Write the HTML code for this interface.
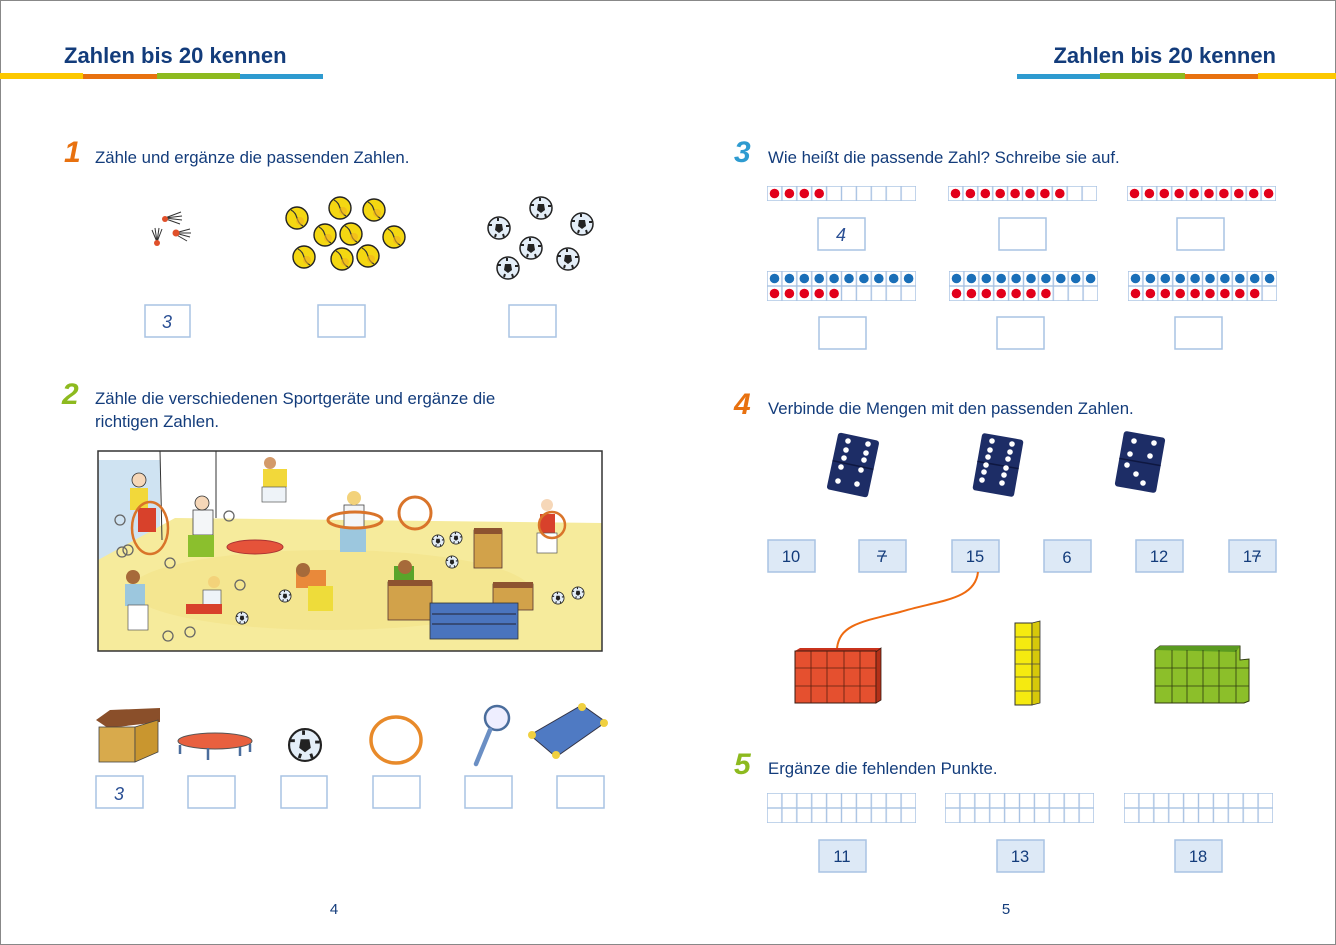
<!DOCTYPE html>
<html><head><meta charset="utf-8"><style>
html,body{margin:0;padding:0;background:#fff}
svg{display:block}
text{font-family:"Liberation Sans",sans-serif}
</style></head><body>
<svg width="1336" height="945" viewBox="0 0 1336 945" xmlns="http://www.w3.org/2000/svg">
<defs>
<pattern id="cell" width="14.9" height="15" patternUnits="userSpaceOnUse"><rect x="0" y="0" width="14.9" height="15" fill="#fff" stroke="#a9c3e3" stroke-width="1.4"/></pattern>
<g id="ball"><circle r="11" fill="#e4eef8" stroke="#222" stroke-width="1.5"/><polygon points="-3,-4 3,-4 4,2 0,5 -4,2" fill="#222"/><path d="M-10,-3 l3,0 M10,-2 l-3,0 M-4,9 l1,-3 M5,9 l-1,-3 M-1,-10 l0,3" stroke="#222" stroke-width="2"/></g>
<g id="tb"><circle r="11" fill="#f4d712" stroke="#222" stroke-width="1.4"/><path d="M-6,-8 C2,-4 -2,4 6,8" fill="none" stroke="#333" stroke-width="1.2"/><circle cx="3" cy="3" r="4" fill="#f0b020" opacity=".6"/></g>
<g id="bluerow" fill="#1a6fb8"><circle cx="7.5" cy="7.5" r="4.8"/><circle cx="22.4" cy="7.5" r="4.8"/><circle cx="37.3" cy="7.5" r="4.8"/><circle cx="52.2" cy="7.5" r="4.8"/><circle cx="67.1" cy="7.5" r="4.8"/><circle cx="82" cy="7.5" r="4.8"/><circle cx="96.9" cy="7.5" r="4.8"/><circle cx="111.8" cy="7.5" r="4.8"/><circle cx="126.7" cy="7.5" r="4.8"/><circle cx="141.6" cy="7.5" r="4.8"/></g>
</defs>
<rect x="0.5" y="0.5" width="1335" height="944" fill="#fff" stroke="#888"/>

<!-- headers -->
<text x="64" y="63" font-size="22" font-weight="bold" fill="#133c7b">Zahlen bis 20 kennen</text>
<rect x="0" y="73" width="83" height="6" fill="#fcc800"/><rect x="83" y="74" width="74" height="5" fill="#e8710f"/><rect x="157" y="73" width="83" height="6" fill="#8dba1f"/><rect x="240" y="74" width="83" height="5" fill="#2e9bd0"/>
<text x="1276" y="63" font-size="22" font-weight="bold" fill="#133c7b" text-anchor="end">Zahlen bis 20 kennen</text>
<rect x="1017" y="74" width="83" height="5" fill="#2e9bd0"/><rect x="1100" y="73" width="85" height="6" fill="#8dba1f"/><rect x="1185" y="74" width="73" height="5" fill="#e8710f"/><rect x="1258" y="73" width="78" height="6" fill="#fcc800"/>

<!-- numbers & instructions -->
<g font-size="30" font-weight="bold" font-style="italic">
<text x="64" y="162" fill="#e8710f">1</text>
<text x="62" y="404" fill="#8dba1f">2</text>
<text x="734" y="162" fill="#2e9bd0">3</text>
<text x="734" y="414" fill="#e8710f">4</text>
<text x="734" y="774" fill="#8dba1f">5</text>
</g>
<g font-size="16.8" fill="#133c7b">
<text x="95" y="163">Zähle und ergänze die passenden Zahlen.</text>
<text x="95" y="404">Zähle die verschiedenen Sportgeräte und ergänze die</text>
<text x="95" y="427">richtigen Zahlen.</text>
<text x="768" y="163">Wie heißt die passende Zahl? Schreibe sie auf.</text>
<text x="768" y="414">Verbinde die Mengen mit den passenden Zahlen.</text>
<text x="768" y="774">Ergänze die fehlenden Punkte.</text>
</g>

<!-- ex1 pictures -->
<g stroke="#333" stroke-width="1" fill="none">
<path d="M165,218 l16,-6 M165,218 l17,-2 M165,218 l17,2 M166,219 l14,5"/>
<path d="M175,233 l15,-4 M175,233 l16,0 M175,233 l15,4 M175,234 l12,7"/>
<path d="M157,242 l-2,-14 M157,242 l2,-14 M157,242 l5,-13 M157,242 l-5,-12"/>
</g>
<circle cx="165" cy="219" r="3" fill="#e0502a"/><circle cx="176" cy="233" r="3.5" fill="#e0502a"/><circle cx="157" cy="243" r="3" fill="#e0502a"/>
<use href="#tb" x="297" y="218"/><use href="#tb" x="340" y="208"/><use href="#tb" x="374" y="210"/><use href="#tb" x="325" y="235"/><use href="#tb" x="351" y="234"/><use href="#tb" x="394" y="237"/><use href="#tb" x="304" y="257"/><use href="#tb" x="342" y="259"/><use href="#tb" x="368" y="256"/>
<use href="#ball" x="499" y="228"/><use href="#ball" x="541" y="208"/><use href="#ball" x="582" y="224"/><use href="#ball" x="531" y="248"/><use href="#ball" x="568" y="259"/><use href="#ball" x="508" y="268"/>

<!-- answer boxes -->
<g fill="#fff" stroke="#a9c3e3" stroke-width="1.5">
<rect x="145" y="305" width="45" height="32"/><rect x="318" y="305" width="47" height="32"/><rect x="509" y="305" width="47" height="32"/>
<rect x="96" y="776" width="47" height="32"/><rect x="188" y="776" width="47" height="32"/><rect x="281" y="776" width="46" height="32"/><rect x="373" y="776" width="47" height="32"/><rect x="465" y="776" width="47" height="32"/><rect x="557" y="776" width="47" height="32"/>
<rect x="818" y="218" width="47" height="32"/><rect x="999" y="218" width="47" height="32"/><rect x="1177" y="218" width="47" height="32"/>
<rect x="819" y="317" width="47" height="32"/><rect x="997" y="317" width="47" height="32"/><rect x="1175" y="317" width="47" height="32"/>
</g>
<g font-size="18" font-style="italic" fill="#2a4f94" text-anchor="middle">
<text x="167" y="328">3</text><text x="119" y="800">3</text><text x="841" y="241">4</text>
</g>

<!-- ex2 illustration -->
<rect x="98" y="451" width="504" height="200" fill="#fff"/>
<polygon points="98,460 160,460 160,540 98,560" fill="#cfe3f2"/>
<polygon points="98,560 175,518 602,523 602,651 98,651" fill="#f6eb9c"/>
<ellipse cx="330" cy="590" rx="200" ry="40" fill="#f3e289" opacity=".6"/>
<rect x="98" y="451" width="504" height="200" fill="none" stroke="#333" stroke-width="1.5"/>
<line x1="216" y1="451" x2="216" y2="518" stroke="#333"/>
<line x1="160" y1="451" x2="162" y2="540" stroke="#333"/>
<g>
<rect x="130" y="488" width="18" height="22" fill="#f2d83a"/><circle cx="139" cy="480" r="7" fill="#f6d7b8" stroke="#333" stroke-width=".8"/><rect x="138" y="508" width="18" height="24" fill="#d8412b"/>
<ellipse cx="150" cy="528" rx="18" ry="26" fill="none" stroke="#d9742a" stroke-width="2.5"/>
<rect x="193" y="510" width="20" height="25" fill="#f4f6f8" stroke="#444" stroke-width=".8"/><circle cx="202" cy="503" r="7" fill="#f6d7b8" stroke="#333" stroke-width=".8"/><rect x="188" y="535" width="26" height="22" fill="#8bbf2d"/>
<rect x="263" y="469" width="24" height="18" fill="#f2d83a"/><circle cx="270" cy="463" r="6" fill="#d39a6a"/><rect x="262" y="487" width="24" height="15" fill="#eef3f8" stroke="#555" stroke-width=".7"/>
<rect x="344" y="505" width="20" height="25" fill="#f4f6f8" stroke="#444" stroke-width=".8"/><circle cx="354" cy="498" r="7" fill="#f3d27a"/><rect x="340" y="527" width="26" height="25" fill="#9cc7de"/>
<ellipse cx="355" cy="520" rx="27" ry="8" fill="none" stroke="#d9742a" stroke-width="3"/>
<circle cx="415" cy="513" r="16" fill="none" stroke="#d9742a" stroke-width="3"/>
<rect x="540" y="514" width="15" height="20" fill="#d8412b"/><circle cx="547" cy="505" r="6" fill="#f6d7b8"/><rect x="537" y="533" width="20" height="20" fill="#fff" stroke="#555" stroke-width=".7"/>
<circle cx="552" cy="525" r="13" fill="none" stroke="#d9742a" stroke-width="2.5"/>
<rect x="125" y="584" width="20" height="22" fill="#9cc7de"/><circle cx="133" cy="577" r="7" fill="#a66a3a"/><rect x="128" y="605" width="20" height="25" fill="#fff" stroke="#555" stroke-width=".7"/>
<rect x="203" y="590" width="18" height="15" fill="#eef3f8" stroke="#555" stroke-width=".7"/><circle cx="214" cy="582" r="6" fill="#f3d27a"/><rect x="186" y="604" width="36" height="10" fill="#d8412b"/>
<rect x="296" y="570" width="30" height="18" fill="#e9893a"/><circle cx="303" cy="570" r="7" fill="#a66a3a"/><rect x="308" y="586" width="25" height="25" fill="#eedc3a"/>
<rect x="394" y="566" width="20" height="15" fill="#59a52a"/><circle cx="405" cy="567" r="7" fill="#a66a3a"/>
</g>
<ellipse cx="255" cy="547" rx="28" ry="7" fill="#e5533a" stroke="#a33" stroke-width="1"/>
<rect x="388" y="582" width="44" height="38" fill="#d2a24a" stroke="#533" stroke-width=".8"/><rect x="388" y="580" width="44" height="6" fill="#8d5330"/>
<rect x="474" y="530" width="28" height="38" fill="#d2a24a" stroke="#533" stroke-width=".8"/><rect x="474" y="528" width="28" height="6" fill="#8d5330"/>
<rect x="493" y="584" width="40" height="26" fill="#d2a24a" stroke="#533" stroke-width=".8"/><rect x="493" y="582" width="40" height="6" fill="#8d5330"/>
<rect x="430" y="603" width="88" height="36" fill="#4a74be" stroke="#333" stroke-width=".8"/><line x1="432" y1="614" x2="516" y2="614" stroke="#223"/><line x1="432" y1="624" x2="516" y2="624" stroke="#223"/>
<use href="#ball" transform="translate(285,596) scale(.55)"/><use href="#ball" transform="translate(242,618) scale(.55)"/><use href="#ball" transform="translate(438,541) scale(.55)"/><use href="#ball" transform="translate(456,538) scale(.55)"/><use href="#ball" transform="translate(452,562) scale(.55)"/><use href="#ball" transform="translate(558,598) scale(.55)"/><use href="#ball" transform="translate(578,593) scale(.55)"/>
<g fill="none" stroke="#666" stroke-width="1.3"><circle cx="120" cy="520" r="5"/><circle cx="122" cy="552" r="5"/><circle cx="128" cy="550" r="5"/><circle cx="229" cy="516" r="5"/><circle cx="170" cy="563" r="5"/><circle cx="240" cy="585" r="5"/><circle cx="168" cy="636" r="5"/><circle cx="190" cy="632" r="5"/></g>

<!-- ex2 items -->
<polygon points="96,720 110,710 160,708 160,722 108,728" fill="#8a4f2a"/>
<rect x="99" y="727" width="36" height="35" fill="#d8aa4c" stroke="#444" stroke-width=".8"/><polygon points="135,727 158,720 158,752 135,762" fill="#c9962f" stroke="#444" stroke-width=".8"/>
<ellipse cx="215" cy="741" rx="37" ry="8" fill="#e8603f" stroke="#555"/><g stroke="#4a6d9c" stroke-width="2.5"><line x1="180" y1="745" x2="180" y2="754"/><line x1="208" y1="748" x2="208" y2="760"/><line x1="240" y1="747" x2="240" y2="756"/><line x1="250" y1="744" x2="250" y2="752"/></g>
<g transform="translate(305,745) scale(1.45)"><use href="#ball"/></g>
<ellipse cx="396" cy="740" rx="25" ry="23" fill="none" stroke="#e88a2a" stroke-width="3.5"/>
<circle cx="497" cy="718" r="12" fill="#eef" stroke="#4a6d9c" stroke-width="2.5"/><line x1="490" y1="730" x2="476" y2="764" stroke="#6b8fc4" stroke-width="4.5" stroke-linecap="round"/>
<polygon points="530,735 582,705 606,722 556,757" fill="#4f7ac3" stroke="#334" stroke-width="1"/><circle cx="582" cy="707" r="4" fill="#f0d040"/><circle cx="604" cy="723" r="4" fill="#f0d040"/><circle cx="532" cy="735" r="4" fill="#f0d040"/><circle cx="556" cy="755" r="4" fill="#f0d040"/>

<!-- ex3 strips -->
<g transform="translate(767,186)"><rect width="149" height="15" fill="url(#cell)"/><g fill="#e2001a"><circle cx="7.5" cy="7.5" r="4.8"/><circle cx="22.4" cy="7.5" r="4.8"/><circle cx="37.3" cy="7.5" r="4.8"/><circle cx="52.2" cy="7.5" r="4.8"/></g></g>
<g transform="translate(948,186)"><rect width="149" height="15" fill="url(#cell)"/><g fill="#e2001a"><circle cx="7.5" cy="7.5" r="4.8"/><circle cx="22.4" cy="7.5" r="4.8"/><circle cx="37.3" cy="7.5" r="4.8"/><circle cx="52.2" cy="7.5" r="4.8"/><circle cx="67.1" cy="7.5" r="4.8"/><circle cx="82" cy="7.5" r="4.8"/><circle cx="96.9" cy="7.5" r="4.8"/><circle cx="111.8" cy="7.5" r="4.8"/></g></g>
<g transform="translate(1127,186)"><rect width="149" height="15" fill="url(#cell)"/><g fill="#e2001a"><circle cx="7.5" cy="7.5" r="4.8"/><circle cx="22.4" cy="7.5" r="4.8"/><circle cx="37.3" cy="7.5" r="4.8"/><circle cx="52.2" cy="7.5" r="4.8"/><circle cx="67.1" cy="7.5" r="4.8"/><circle cx="82" cy="7.5" r="4.8"/><circle cx="96.9" cy="7.5" r="4.8"/><circle cx="111.8" cy="7.5" r="4.8"/><circle cx="126.7" cy="7.5" r="4.8"/><circle cx="141.6" cy="7.5" r="4.8"/></g></g>
<g transform="translate(767,271)"><rect width="149" height="30" fill="url(#cell)"/><use href="#bluerow"/><g fill="#e2001a"><circle cx="7.5" cy="22.5" r="4.8"/><circle cx="22.4" cy="22.5" r="4.8"/><circle cx="37.3" cy="22.5" r="4.8"/><circle cx="52.2" cy="22.5" r="4.8"/><circle cx="67.1" cy="22.5" r="4.8"/></g></g>
<g transform="translate(949,271)"><rect width="149" height="30" fill="url(#cell)"/><use href="#bluerow"/><g fill="#e2001a"><circle cx="7.5" cy="22.5" r="4.8"/><circle cx="22.4" cy="22.5" r="4.8"/><circle cx="37.3" cy="22.5" r="4.8"/><circle cx="52.2" cy="22.5" r="4.8"/><circle cx="67.1" cy="22.5" r="4.8"/><circle cx="82" cy="22.5" r="4.8"/><circle cx="96.9" cy="22.5" r="4.8"/></g></g>
<g transform="translate(1128,271)"><rect width="149" height="30" fill="url(#cell)"/><use href="#bluerow"/><g fill="#e2001a"><circle cx="7.5" cy="22.5" r="4.8"/><circle cx="22.4" cy="22.5" r="4.8"/><circle cx="37.3" cy="22.5" r="4.8"/><circle cx="52.2" cy="22.5" r="4.8"/><circle cx="67.1" cy="22.5" r="4.8"/><circle cx="82" cy="22.5" r="4.8"/><circle cx="96.9" cy="22.5" r="4.8"/><circle cx="111.8" cy="22.5" r="4.8"/><circle cx="126.7" cy="22.5" r="4.8"/></g></g>

<!-- ex4 dominoes -->
<g transform="translate(853,465) rotate(12)"><rect x="-21" y="-29" width="42" height="58" rx="3" fill="#1d2d66"/><line x1="-21" y1="0" x2="21" y2="0" stroke="#0e1740" stroke-width="1.5"/></g>
<g fill="#fff">
<circle cx="848" cy="441" r="2.8"/><circle cx="868" cy="444" r="2.8"/><circle cx="846" cy="450" r="2.8"/><circle cx="866" cy="453" r="2.8"/><circle cx="844" cy="458" r="2.8"/><circle cx="864" cy="460" r="2.8"/><circle cx="841" cy="467" r="2.8"/><circle cx="861" cy="470" r="2.8"/><circle cx="838" cy="481" r="2.8"/><circle cx="857" cy="484" r="2.8"/></g>
<g transform="translate(998,465) rotate(10)"><rect x="-21" y="-29" width="42" height="58" rx="3" fill="#1d2d66"/><line x1="-21" y1="0" x2="21" y2="0" stroke="#0e1740" stroke-width="1.5"/></g>
<g fill="#fff"><circle cx="992" cy="441" r="2.8"/><circle cx="1012" cy="444" r="2.8"/><circle cx="990" cy="450" r="2.8"/><circle cx="1010" cy="452" r="2.8"/><circle cx="988" cy="457" r="2.8"/><circle cx="1008" cy="459" r="2.8"/><circle cx="986" cy="465" r="2.8"/><circle cx="1006" cy="468" r="2.8"/><circle cx="984" cy="472" r="2.8"/><circle cx="1004" cy="475" r="2.8"/><circle cx="982" cy="480" r="2.8"/><circle cx="1002" cy="483" r="2.8"/></g>
<g transform="translate(1140,462) rotate(10)"><rect x="-21" y="-28" width="42" height="56" rx="3" fill="#1d2d66"/><line x1="-21" y1="0" x2="21" y2="0" stroke="#0e1740" stroke-width="1.5"/></g>
<g fill="#fff"><circle cx="1134" cy="441" r="2.8"/><circle cx="1154" cy="443" r="2.8"/><circle cx="1130" cy="454" r="2.8"/><circle cx="1150" cy="456" r="2.8"/><circle cx="1127" cy="465" r="2.8"/><circle cx="1136" cy="474" r="2.8"/><circle cx="1143" cy="483" r="2.8"/></g>

<!-- ex4 number boxes -->
<g fill="#dde9f6" stroke="#a9c3e3" stroke-width="1.5">
<rect x="768" y="540" width="47" height="32"/><rect x="859" y="540" width="47" height="32"/><rect x="952" y="540" width="47" height="32"/><rect x="1044" y="540" width="47" height="32"/><rect x="1136" y="540" width="47" height="32"/><rect x="1229" y="540" width="47" height="32"/>
<rect x="819" y="840" width="47" height="32"/><rect x="997" y="840" width="47" height="32"/><rect x="1175" y="840" width="47" height="32"/>
</g>
<g font-size="16.5" fill="#133c7b" text-anchor="middle">
<text x="791" y="562">10</text><text x="882" y="562">7</text><text x="975" y="562">15</text><text x="1067" y="563">6</text><text x="1159" y="562">12</text><text x="1252" y="562">17</text>
<text x="842" y="862">11</text><text x="1020" y="862">13</text><text x="1198" y="862">18</text>
</g>
<line x1="877" y1="556" x2="887" y2="556" stroke="#133c7b" stroke-width="1.2"/><line x1="1252" y1="556" x2="1261" y2="556" stroke="#133c7b" stroke-width="1.2"/>
<path d="M978,572 C975,600 940,600 900,612 C860,622 840,625 837,648" fill="none" stroke="#ee6a10" stroke-width="2"/>

<!-- blocks -->
<polygon points="795,651 800,648 881,648 876,652" fill="#c9321c"/>
<rect x="795" y="651" width="81" height="52" fill="#e5502f" stroke="#3a1a10" stroke-width="1"/>
<polygon points="876,652 881,648 881,700 876,703" fill="#b33018" stroke="#3a1a10" stroke-width=".8"/>
<g stroke="#5a2010" stroke-width=".8"><line x1="811" y1="651" x2="811" y2="703"/><line x1="827" y1="651" x2="827" y2="703"/><line x1="844" y1="651" x2="844" y2="703"/><line x1="860" y1="651" x2="860" y2="703"/><line x1="795" y1="668" x2="876" y2="668"/><line x1="795" y1="686" x2="876" y2="686"/></g>
<rect x="1015" y="623" width="17" height="82" fill="#f5ea10" stroke="#333" stroke-width="1"/><polygon points="1032,623 1040,621 1040,703 1032,705" fill="#d6c80a" stroke="#333" stroke-width=".8"/>
<g stroke="#444" stroke-width=".8"><line x1="1015" y1="637" x2="1040" y2="637"/><line x1="1015" y1="650" x2="1040" y2="650"/><line x1="1015" y1="664" x2="1040" y2="664"/><line x1="1015" y1="677" x2="1040" y2="677"/><line x1="1015" y1="691" x2="1040" y2="691"/></g>
<polygon points="1155,650 1160,646 1240,646 1240,660 1249,659 1249,701 1244,703 1155,703" fill="#8cbf2a" stroke="#2f3a10" stroke-width="1"/>
<polygon points="1155,650 1160,646 1240,646 1236,652" fill="#5a9a20"/>
<g stroke="#2f3a10" stroke-width=".8"><line x1="1172" y1="650" x2="1172" y2="703"/><line x1="1187" y1="650" x2="1187" y2="703"/><line x1="1203" y1="650" x2="1203" y2="703"/><line x1="1219" y1="650" x2="1219" y2="703"/><line x1="1236" y1="650" x2="1236" y2="703"/><line x1="1155" y1="668" x2="1249" y2="668"/><line x1="1155" y1="686" x2="1249" y2="686"/></g>

<!-- ex5 grids -->
<g transform="translate(767,793)"><rect width="149" height="30" fill="url(#cell)"/></g>
<g transform="translate(945,793)"><rect width="149" height="30" fill="url(#cell)"/></g>
<g transform="translate(1124,793)"><rect width="149" height="30" fill="url(#cell)"/></g>

<!-- page numbers -->
<text x="334" y="914" font-size="15" fill="#133c7b" text-anchor="middle">4</text>
<text x="1006" y="914" font-size="15" fill="#133c7b" text-anchor="middle">5</text>
</svg>
</body></html>
